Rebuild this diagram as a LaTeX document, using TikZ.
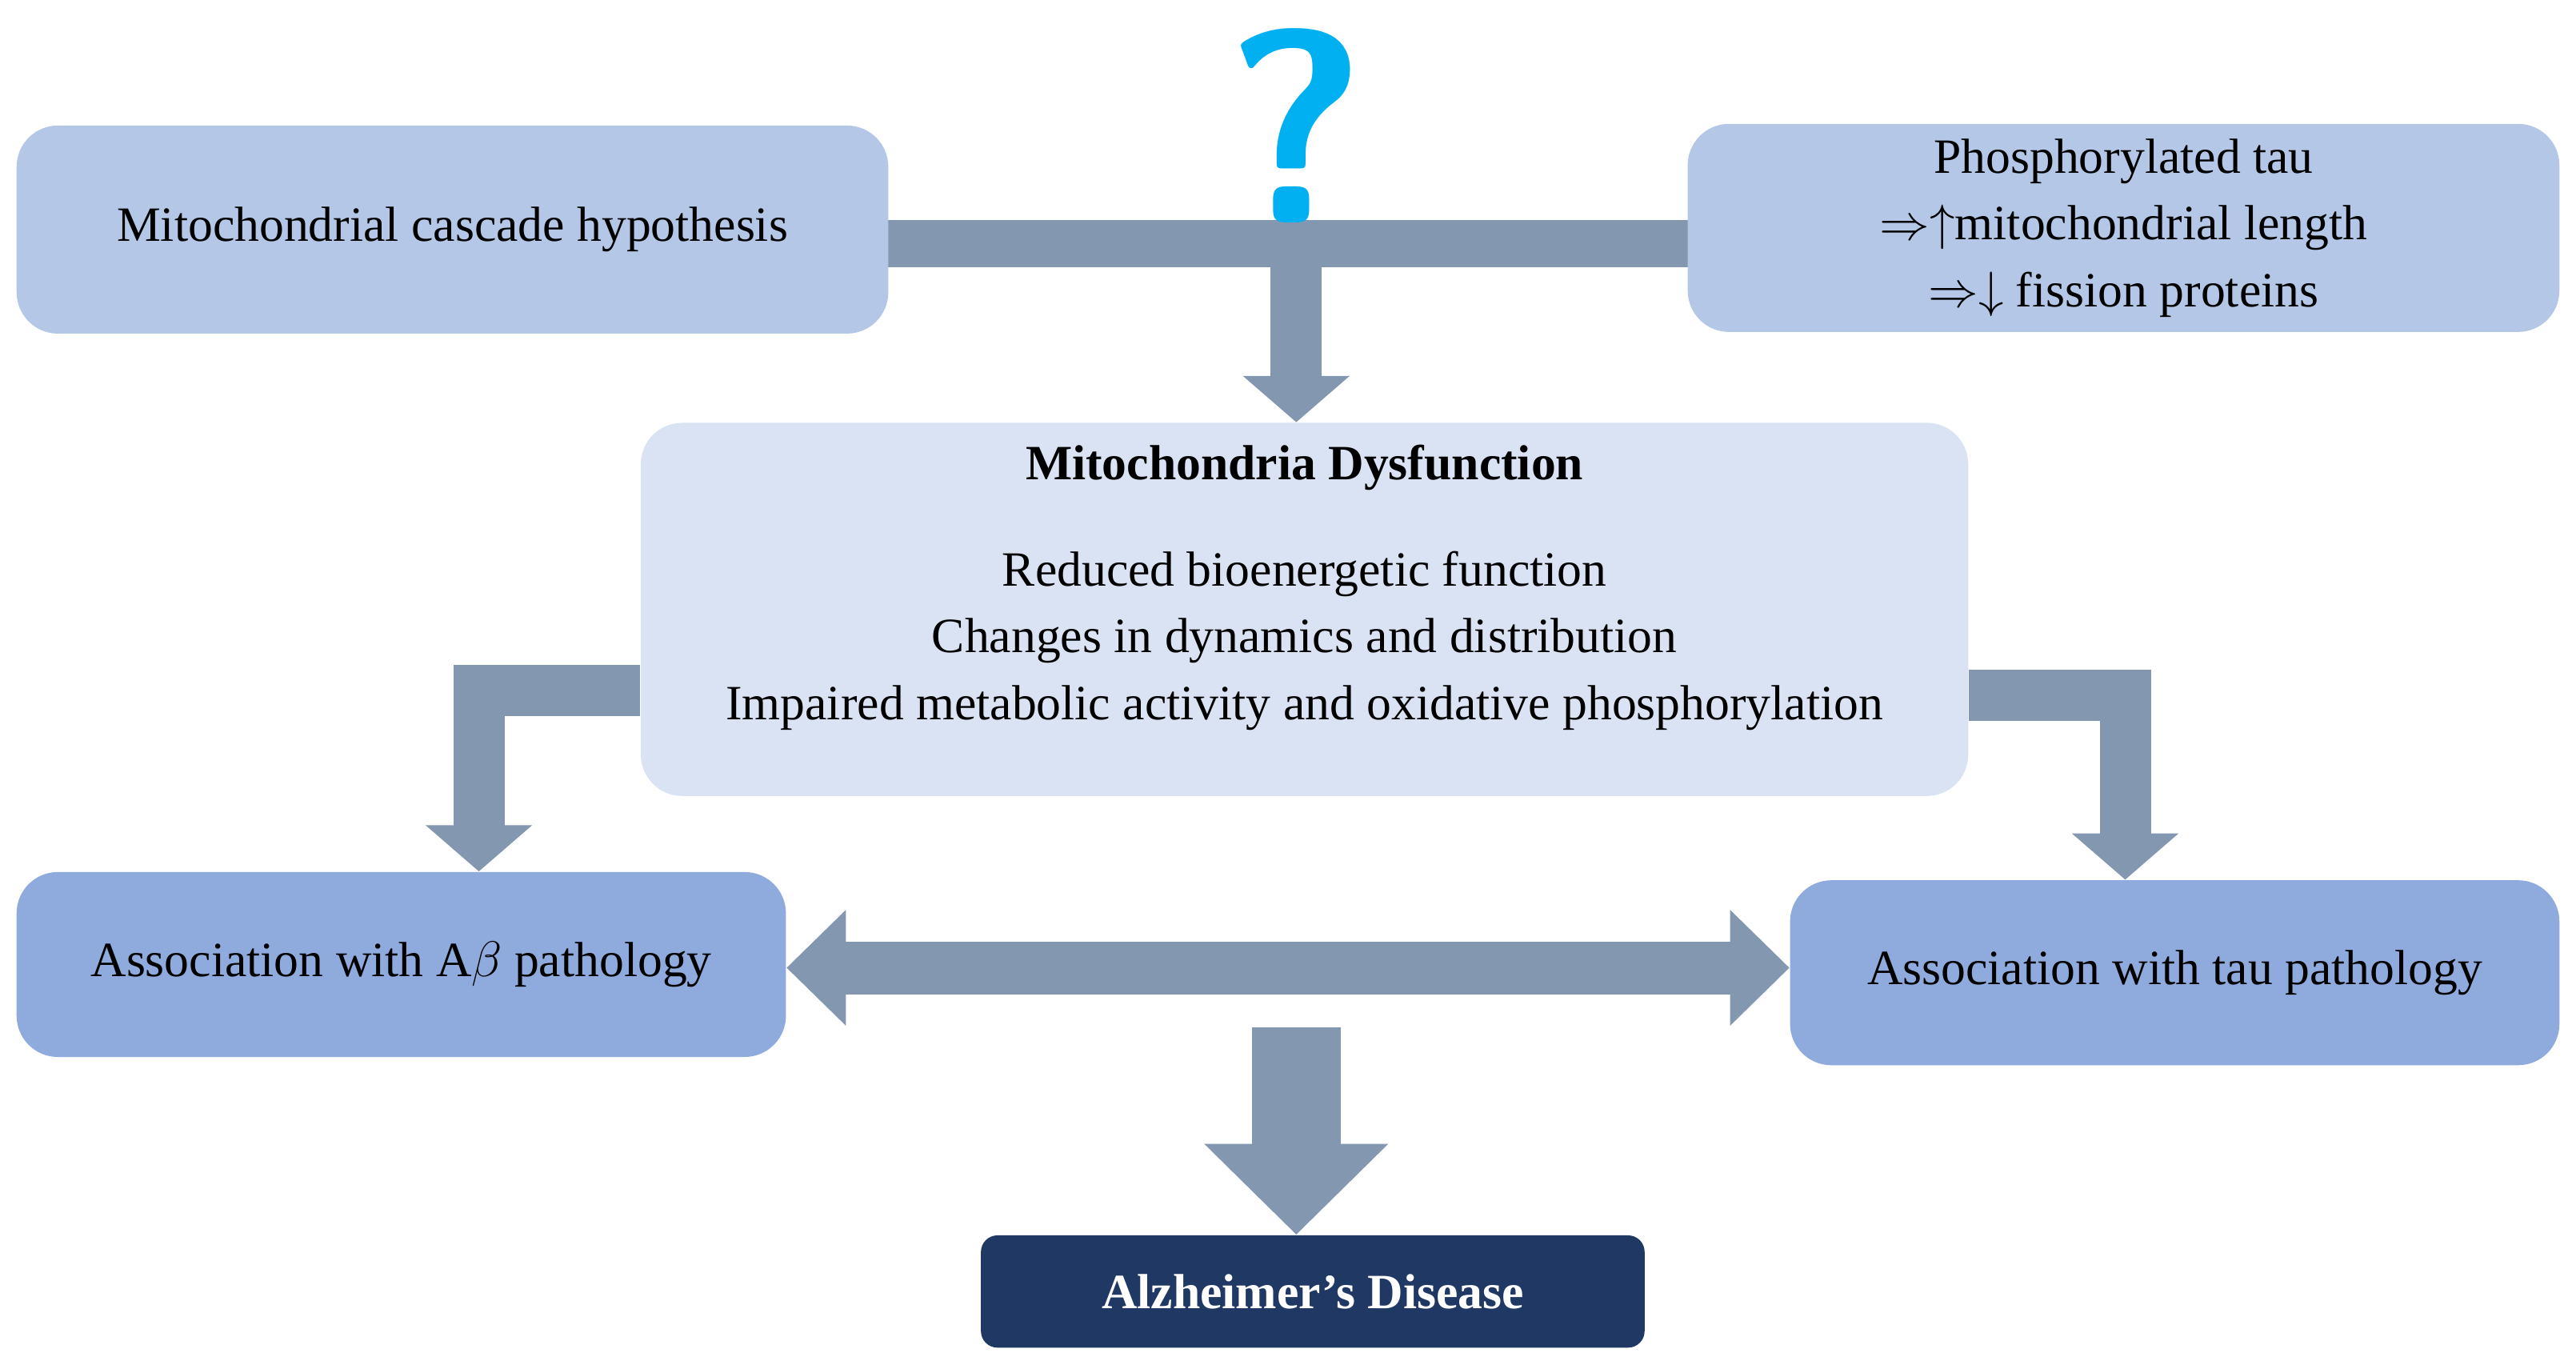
\documentclass[tikz,border=0pt]{standalone}
\usepackage{fontspec}
\setmainfont{Liberation Serif}
\usetikzlibrary{arrows.meta}
\definecolor{lb}{HTML}{B4C7E7}
\definecolor{vlb}{HTML}{DAE3F3}
\definecolor{mb}{HTML}{8FAADC}
\definecolor{ar}{HTML}{8497B0}
\definecolor{nv}{HTML}{203864}
\definecolor{qm}{HTML}{00B0F0}
\begin{document}
\begin{tikzpicture}[x=0.02cm,y=-0.02cm,
 box/.style={rounded corners=0.5cm,align=center,font=\fontsize{17}{23}\selectfont,inner sep=0pt},
 arr/.style={draw=ar,line width=0.62cm,line join=miter,-{Triangle[width=1.26cm 0,length=0.56cm 0]}}]
\useasboundingbox (0,0) rectangle (1560,824);
% bar
\fill[ar] (530,133) rectangle (1030,162);
\coordinate (bc) at (785,147);
\node[box,fill=lb,minimum width=10.56cm,minimum height=2.52cm] (b1) at (274,139) {Mitochondrial cascade hypothesis};
\node[box,fill=lb,minimum width=10.56cm,minimum height=2.52cm] (b2) at (1286,138) {Phosphorylated tau\\$\Rightarrow\uparrow$mitochondrial length\\$\Rightarrow\downarrow$ fission proteins};
\node[text=qm,font=\fontsize{95}{95}\selectfont\bfseries\sffamily] (q) at (785,76) {?};
\node[box,fill=vlb,minimum width=16.08cm,minimum height=4.52cm] (c) at (790,369) {};
\node[font=\fontsize{17}{23}\selectfont\bfseries] (ct) at (790,283) {Mitochondria Dysfunction};
\node[font=\fontsize{17}{23}\selectfont,align=center] (cb) at (790,388) {Reduced bioenergetic function\\Changes in dynamics and distribution\\Impaired metabolic activity and oxidative phosphorylation};
\node[box,fill=mb,minimum width=9.32cm,minimum height=2.24cm] (l) at (243,584) {Association with A$\beta$ pathology};
\node[box,fill=mb,minimum width=9.32cm,minimum height=2.24cm] (r) at (1317,589) {Association with tau pathology};
\node[box,fill=nv,text=white,rounded corners=0.2cm,minimum width=8.04cm,minimum height=1.36cm,font=\fontsize{17}{23}\selectfont\bfseries] (ad) at (795,782) {Alzheimer’s Disease};
\draw[arr] (bc) -- (c.north -| bc);
\coordinate (lc) at (290,418); \coordinate (rc) at (1287,421);
\draw[arr] (c.west |- lc) -- (lc) -- (lc |- l.north);
\draw[arr] (c.east |- rc) -- (rc) -- (rc |- r.north);
\draw[draw=ar,line width=0.64cm,{Triangle[width=1.36cm 0,length=0.72cm 0]}-{Triangle[width=1.36cm 0,length=0.72cm 0]}] (l.east |- 0,586) -- (r.west |- 0,586);
\coordinate (dt) at (785,622);
\draw[draw=ar,line width=1.08cm,-{Triangle[width=2.16cm 0,length=1.1cm 0]}] (dt) -- (ad.north -| dt);
\end{tikzpicture}
\end{document}
